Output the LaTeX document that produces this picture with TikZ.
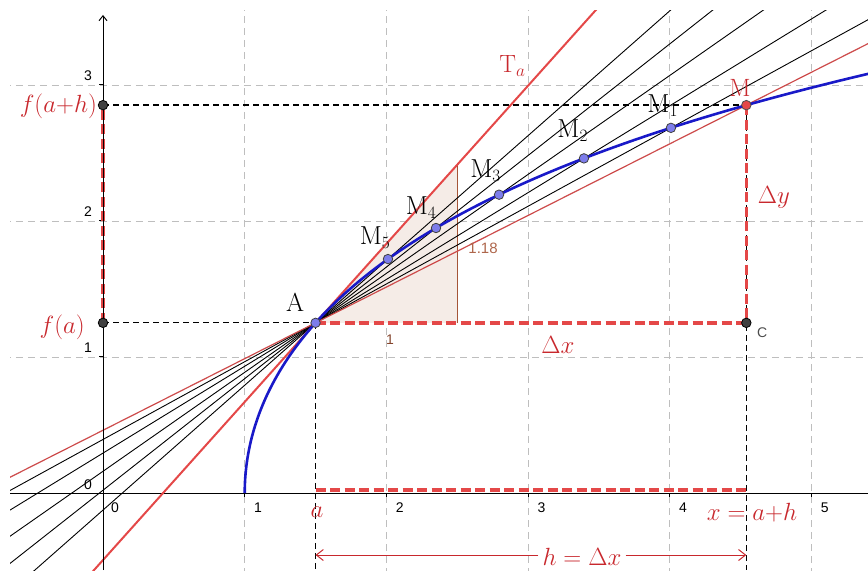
\documentclass[tikz,border=0pt]{standalone}
\usepackage{fontspec}
\newfontfamily\sansnum{Liberation Sans}
\usetikzlibrary{calc,arrows.meta}
\definecolor{ggred}{RGB}{228,72,72}
\definecolor{thinred}{RGB}{205,75,75}
\definecolor{labred}{RGB}{200,40,45}
\definecolor{ggblue}{RGB}{25,25,200}
\definecolor{ptblue}{RGB}{125,125,235}
\definecolor{trifill}{RGB}{245,236,231}
\definecolor{tribrown}{RGB}{165,85,55}
\definecolor{gridgray}{RGB}{190,190,190}
\begin{document}
\begin{tikzpicture}[x=141.7pt,y=136pt,
  declare function={ff(\x)=1.3*ln(\x+sqrt(\x*\x-1));},
  gridline/.style={gridgray, line width=0.9pt, dash pattern=on 7pt off 5pt},
  blackdash/.style={black, line width=1.3pt, dash pattern=on 6pt off 4pt},
  reddash/.style={ggred, line width=3.5pt, dash pattern=on 10pt off 4.5pt},
  secant/.style={black, line width=0.9pt},
  ptb/.style={circle, draw=black!75, line width=0.8pt, fill=ptblue, inner sep=0pt, minimum size=9.5pt},
  ptd/.style={circle, draw=black, line width=0.8pt, fill=black!75, inner sep=0pt, minimum size=9.5pt},
  ptr/.style={circle, draw=black!70, line width=0.8pt, fill=ggred, inner sep=0pt, minimum size=9.5pt},
  lab/.style={inner sep=1pt, font=\fontsize{26}{26}\selectfont},
  rlab/.style={inner sep=1pt, text=labred, font=\fontsize{25}{25}\selectfont},
  ticklab/.style={inner sep=1pt, font=\sansnum\fontsize{14}{14}\selectfont},
]
\useasboundingbox (-0.7269,-0.5662) rectangle (5.3987,3.625);

% key coordinates
\coordinate (A) at (1.5,{ff(1.5)});
\coordinate (M) at (4.54,{ff(4.54)});
\coordinate (M1) at (4.008,{ff(4.008)});
\coordinate (M2) at (3.394,{ff(3.394)});
\coordinate (M3) at (2.795,{ff(2.795)});
\coordinate (M4) at (2.35,{ff(2.35)});
\coordinate (M5) at (2.011,{ff(2.011)});
\coordinate (C) at (M |- A);
\coordinate (FA) at (0,{ff(1.5)});
\coordinate (FAH) at (0,{ff(4.54)});
\coordinate (Ax) at (1.5,0);
\coordinate (Mx) at (4.54,0);
\coordinate (Abot) at (1.5,-0.5662);
\coordinate (Mbot) at (4.54,-0.5662);
\coordinate (T1) at (-1,{ff(1.5)-2.5*1.162755});
\coordinate (T2) at (4,{ff(1.5)+2.5*1.162755});
\coordinate (S1) at (2.5,{ff(1.5)});
\coordinate (S2) at (2.5,{ff(1.5)+1.162755});

\begin{scope}
\clip (-0.656,-0.5662) rectangle (5.3987,3.551);
% grid
\foreach \i in {1,...,5} \draw[gridline] (\i,-0.6) -- (\i,3.6);
\foreach \j in {1,2,3} \draw[gridline] (-0.7,\j) -- (5.4,\j);
% slope triangle
\fill[trifill] (A) -- (S1) -- (S2) -- cycle;
\draw[tribrown, line width=1.2pt] (S1) -- (S2);
% axes
\draw[black, line width=1pt] (-0.7,0) -- (5.4,0);
\foreach \i in {1,...,5} \draw[black, line width=1pt] (\i,0) -- ++(0,-4pt);
\foreach \j in {1,2,3} \draw[black, line width=1pt] (0,\j) -- ++(-4pt,0);
% black dashed
\draw[blackdash] (FA) -- (A);
\draw[blackdash] (FAH) -- (M);
\draw[blackdash] (A) -- (Abot);
\draw[blackdash] (M) -- (Mbot);
% red dashed
\draw[reddash] (A) -- (C);
\draw[reddash] (M) -- (C);
\draw[reddash] (FA) -- (FAH);
\draw[reddash] ([yshift=3pt]Ax) -- ([yshift=3pt]Mx);
% secants
\foreach \p in {M1,M2,M3,M4,M5}
  \draw[secant] ($(A)!-6!(\p)$) -- ($(A)!6!(\p)$);
\draw[thinred, line width=1.2pt] ($(A)!-3!(M)$) -- ($(A)!3!(M)$);
% tangent
\draw[ggred, line width=2pt] (T1) -- (T2);
% curve
\draw[ggblue, line width=2.6pt, domain=0:2.45, samples=120, variable=\t]
  plot ({cosh(\t)},{1.3*\t});
\end{scope}
\draw[black, line width=1pt, -{Straight Barb[length=5pt,width=8pt]}] (0,-0.5662) -- (0,3.515);

% points
\node[ptd] (pFA) at (FA) {};
\node[ptd] (pFAH) at (FAH) {};
\node[ptd] (pC) at (C) {};
\node[ptb] (pM1) at (M1) {};
\node[ptb] (pM2) at (M2) {};
\node[ptb] (pM3) at (M3) {};
\node[ptb] (pM4) at (M4) {};
\node[ptb] (pM5) at (M5) {};
\node[ptb] (pA) at (A) {};
\node[ptr] (pM) at (M) {};

% tick labels
\foreach \i in {1,...,5} \node[ticklab] (xl\i) at (\i+0.094,-0.11) {\i};
\node[ticklab] (x0) at (0.085,-0.11) {0};
\foreach \j in {1,2,3} \node[ticklab] (yl\j) at (-0.106,\j+0.066) {\j};
\node[ticklab] (y0) at (-0.106,0.059) {0};

% labels
\node[lab] (lA) at (1.355,1.404) {A};
\node[lab] (lM5) at (1.92,1.88) {M$_5$};
\node[lab] (lM4) at (2.245,2.10) {M$_4$};
\node[lab] (lM3) at (2.70,2.37) {M$_3$};
\node[lab] (lM2) at (3.315,2.665) {M$_2$};
\node[lab] (lM1) at (3.95,2.85) {M$_1$};
\node[rlab] (lM) at (4.495,2.978) {M};
\node[rlab] (lT) at (2.89,3.14) {T$_a$};
\node[rlab, anchor=east] (lfah) at (-0.035,2.845) {$f(a{+}h)$};
\node[rlab, anchor=east] (lfa) at (-0.12,1.22) {$f(a)$};
\node[rlab] (ldy) at (4.735,2.176) {$\Delta y$};
\node[rlab] (ldx) at (3.211,1.088) {$\Delta x$};
\node[ticklab, text=black!70] (lC) at (4.651,1.176) {C};
\node[ticklab, text=tribrown!80!black] (l1) at (2.025,1.125) {1};
\node[ticklab, text=tribrown!90, font=\sansnum\fontsize{15}{15}\selectfont] (l118) at (2.682,1.801) {1.18};
\node[rlab] (la) at (1.51,-0.14) {$a$};
\node[rlab] (lx) at (4.58,-0.147) {$x = a{+}h$};
\node[rlab] (lh) at (3.38,-0.466) {$h = \Delta x$};
\coordinate (HL) at (1.5,-0.456);
\coordinate (HR) at (4.54,-0.456);
\draw[labred, line width=1pt, -{Straight Barb[length=7pt,width=11pt]}] ([xshift=-3pt]lh.west |- HL) -- (HL);
\draw[labred, line width=1pt, -{Straight Barb[length=7pt,width=11pt]}] ([xshift=3pt]lh.east |- HR) -- (HR);
\end{tikzpicture}
\end{document}
